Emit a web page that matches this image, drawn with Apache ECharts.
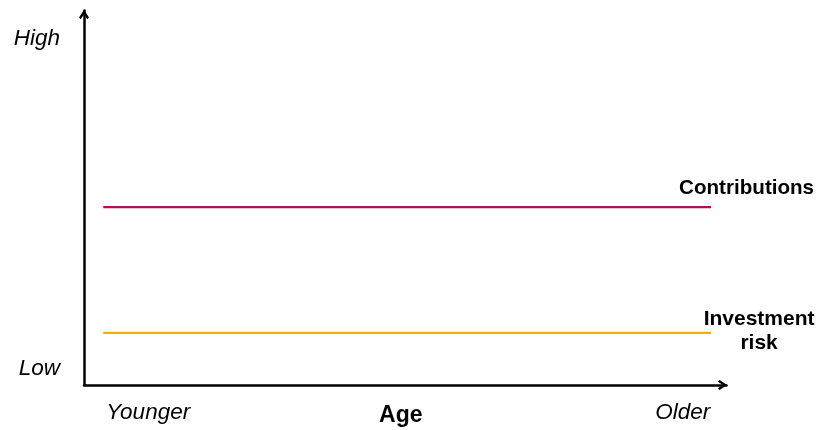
<!DOCTYPE html>
<html>
<head>
<meta charset="utf-8">
<script src="https://cdn.jsdelivr.net/npm/echarts@6/dist/echarts.min.js"></script>
<style>
  html, body { margin: 0; padding: 0; background: #fff; }
  #chart { width: 817px; height: 430px; }
</style>
</head>
<body>
<div id="chart"></div>
<script>
// Schematic: contribution level and investment risk across ages
const seriesNames = ['Contributions', 'Investment\nrisk'];
const contributions = [[3, 47.5], [97.6, 47.5]];
const investmentRisk = [[3, 13.9], [97.6, 13.9]];

const xTickValues = [10, 49.3, 93.2];
const xTickLabels = ['Younger', 'Age', 'Older'];
const yTickValues = [4.3, 92.4];
const yTickLabels = ['Low', 'High'];

const FONT = 'Liberation Sans, Arial, sans-serif';
// open chevron arrow head for both axes
const chevron = 'path://M5,0 L10,7.6 L8.2,9.3 L5,4.2 L1.8,9.3 L0,7.6 Z';

const arrowAxisLine = {
  show: true, onZero: false,
  lineStyle: { color: '#000', width: 2.5 },
  symbol: ['none', chevron], symbolSize: [10, 11], symbolOffset: [0, -4]
};

const chart = echarts.init(document.getElementById('chart'));
chart.setOption({
  animation: false,
  backgroundColor: '#ffffff',
  grid: { left: 84, right: 90.5, top: 10.5, bottom: 45, containLabel: false },
  xAxis: {
    type: 'value', min: 0, max: 100,
    splitLine: { show: false },
    axisTick: { show: false },
    axisLine: arrowAxisLine,
    axisLabel: {
      customValues: xTickValues,
      margin: 16,
      formatter: function (v) {
        const i = xTickValues.indexOf(v);
        const t = xTickLabels[i];
        return i === 1 ? '{b|' + t + '}' : '{i|' + t + '}';
      },
      rich: {
        i: { fontFamily: FONT, fontSize: 22.5, fontStyle: 'italic', color: '#000' },
        b: { fontFamily: FONT, fontSize: 23, fontWeight: 'bold', color: '#000', padding: [3, 0, 0, 0] }
      }
    }
  },
  yAxis: {
    type: 'value', min: 0, max: 100,
    splitLine: { show: false },
    axisTick: { show: false },
    axisLine: arrowAxisLine,
    axisLabel: {
      customValues: yTickValues,
      margin: 24,
      fontFamily: FONT, fontSize: 22.5, fontStyle: 'italic', color: '#000',
      formatter: function (v) { return yTickLabels[yTickValues.indexOf(v)]; }
    }
  },
  series: [
    {
      name: seriesNames[0], type: 'line', data: contributions,
      symbol: 'none', silent: true,
      lineStyle: { color: '#A3145B', width: 2.3 },
      endLabel: {
        show: true, formatter: seriesNames[0],
        fontFamily: FONT, fontSize: 20.6, fontWeight: 'bold', color: '#000',
        align: 'center', offset: [27.5, -19]
      }
    },
    {
      name: seriesNames[1], type: 'line', data: investmentRisk,
      symbol: 'none', silent: true,
      lineStyle: { color: '#EDB000', width: 2.3 },
      endLabel: {
        show: true, formatter: seriesNames[1],
        fontFamily: FONT, fontSize: 21, fontWeight: 'bold', color: '#000',
        align: 'center', lineHeight: 24, offset: [40, -2]
      }
    }
  ]
});
</script>
</body>
</html>
